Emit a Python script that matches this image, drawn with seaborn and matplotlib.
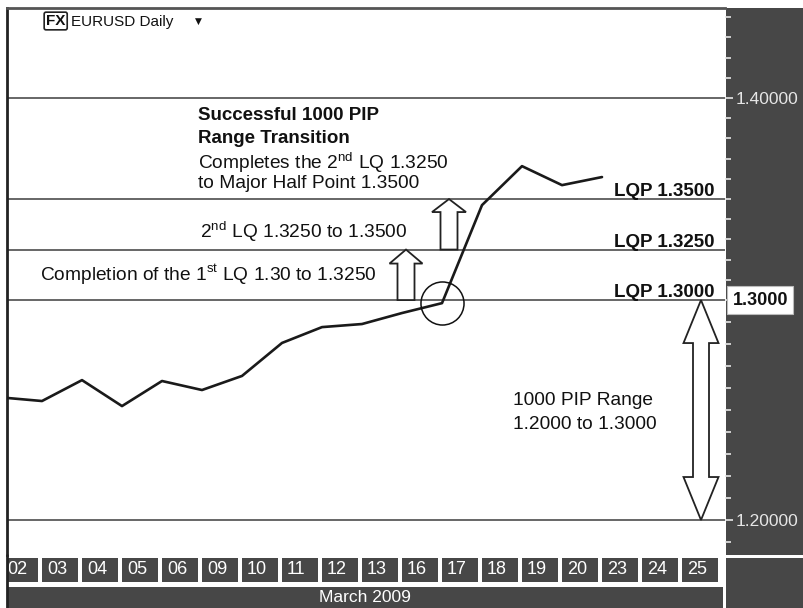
import matplotlib
matplotlib.use("Agg")
import matplotlib.pyplot as plt
import numpy as np
import pandas as pd
import seaborn as sns
from matplotlib.lines import Line2D
from matplotlib.patches import Polygon, Rectangle
from matplotlib.ticker import FixedLocator, NullFormatter

# trading days on the bottom strip (March 2009)
days = ["02", "03", "04", "05", "06", "09", "10", "11", "12", "13",
        "16", "17", "18", "19", "20", "23", "24", "25"]
# EURUSD daily closes (last one = partial bar)
closes = [1.2557, 1.2541, 1.2636, 1.2518, 1.2632, 1.2591, 1.2655, 1.2805,
          1.2877, 1.2891, 1.2941, 1.2986, 1.3470, 1.3663, 1.3569, 1.3609]
lqp_levels = [1.3500, 1.3250, 1.3000]
lqp_labels = ["LQP 1.3500", "LQP 1.3250", "LQP 1.3000"]
grid_levels = [1.40, 1.35, 1.325, 1.30, 1.20]
major_ticks = [1.20, 1.30, 1.40]
major_labels = ["1.20000", "", "1.40000"]
circled_day = "17"
month_label = "March 2009"

W, H = 804, 608
PANEL = "#474747"
INK = "#111111"

sns.set_theme(style="white")
plt.rcParams["font.family"] = ["Liberation Sans", "DejaVu Sans"]
plt.rcParams["mathtext.fontset"] = "custom"
plt.rcParams["mathtext.rm"] = "Liberation Sans"


def fbox(x0, y0, x1, y1):
    # pixel box (top-left origin) -> figure rect
    return [x0 / W, 1 - y1 / H, (x1 - x0) / W, (y1 - y0) / H]


# the chart is not drawn to one scale: 1.30-1.45 is a bit tighter than 1.18-1.30
def fwd(v):
    v = np.asarray(v, dtype=float)
    return np.where(v >= 1.30, (v - 1.30) * 1.01, (v - 1.30) * 1.1)


def inv(u):
    u = np.asarray(u, dtype=float)
    return np.where(u >= 0, u / 1.01 + 1.30, u / 1.1 + 1.30)


def hollow_arrow(ax, x, y_from, y_to, shaft, head, head_len, both=False):
    # widths given in pixels, ends in data units
    tr = ax.transData
    px, pb = tr.transform((x, y_from))
    _, pt = tr.transform((x, y_to))
    if both:
        pts = [(px, pb), (px - head, pb + head_len), (px - shaft, pb + head_len),
               (px - shaft, pt - head_len), (px - head, pt - head_len), (px, pt),
               (px + head, pt - head_len), (px + shaft, pt - head_len),
               (px + shaft, pb + head_len), (px + head, pb + head_len)]
    else:
        pts = [(px - shaft, pb), (px - shaft, pt - head_len), (px - head, pt - head_len),
               (px, pt), (px + head, pt - head_len), (px + shaft, pt - head_len),
               (px + shaft, pb)]
    verts = tr.inverted().transform(np.array(pts))
    ax.add_patch(Polygon(verts, closed=True, fc="white", ec="#222222", lw=1.3, zorder=3))


fig = plt.figure(figsize=(W / 100, H / 100), dpi=100, facecolor="white")

# dark side panels
fig.add_artist(Rectangle((726 / W, 1 - 555 / H), 78 / W, 547 / H, transform=fig.transFigure,
                         fc=PANEL, ec="none", zorder=-1))
fig.add_artist(Rectangle((726 / W, 0), 78 / W, 50 / H, transform=fig.transFigure,
                         fc=PANEL, ec="none", zorder=-1))
fig.add_artist(Line2D([7 / W, 7 / W], [0, 1 - 555 / H], transform=fig.transFigure,
                      color="#222222", lw=2))

ax = fig.add_axes(fbox(7, 8, 725, 555))
ax.set_facecolor("white")
ax.set_yscale("function", functions=(fwd, inv))
ax.set_xlim(0.125, 18.075)
ax.set_ylim(1.1841, 1.4446)

df = pd.DataFrame({"day": days[:len(closes)], "close": closes})
df["pos"] = np.arange(len(df))

for lvl in grid_levels:
    ax.axhline(lvl, color="#5a5a5a", lw=1.3, zorder=1)

sns.lineplot(data=df, x="pos", y="close", ax=ax, color="#1a1a1a", lw=1.9, zorder=4)

ci = days.index(circled_day)
ax.plot(ci, closes[ci], "o", ms=31, mfc="none", mec=INK, mew=1.1, zorder=4)

# level labels
for lvl, lab in zip(lqp_levels, lqp_labels):
    ax.text(17.825, lvl + 0.0015, lab, ha="right", va="baseline", fontsize=13.5,
            fontweight="bold", color=INK, zorder=5)

ax.text(1.0103, 1.30, "1.3000", transform=ax.get_yaxis_transform(), ha="left", va="center",
        fontsize=13, fontweight="bold", color=INK, clip_on=False, zorder=6,
        bbox=dict(boxstyle="square,pad=0.3", fc="white", ec="#bbbbbb", lw=0.8))

# annotations
sup = dict(fontsize=13.8, va="center", color=INK)
ax.text(4.9, 1.3916, "Successful 1000 PIP", fontsize=13.5, fontweight="bold", va="center", color=INK)
ax.text(4.9, 1.3802, "Range Transition", fontsize=13.5, fontweight="bold", va="center", color=INK)
ax.text(4.9, 1.3683, "Completes the 2$^{\\rm nd}$ LQ 1.3250", **sup)
ax.text(4.9, 1.3579, "to Major Half Point 1.3500", **sup)
ax.text(4.95, 1.3337, "2$^{\\rm nd}$ LQ 1.3250 to 1.3500", **sup)
ax.text(0.95, 1.3124, "Completion of the 1$^{\\rm st}$ LQ 1.30 to 1.3250", **sup)
ax.text(12.775, 1.2545, "1000 PIP Range", **sup)
ax.text(12.775, 1.2432, "1.2000 to 1.3000", **sup)

hollow_arrow(ax, 10.1, 1.30, 1.325, 8.5, 16.5, 14)
hollow_arrow(ax, 11.175, 1.325, 1.35, 8.5, 17, 13)
hollow_arrow(ax, 17.475, 1.20, 1.30, 8, 17.5, 43, both=True)

# price scale on the right
ax.yaxis.tick_right()
ax.yaxis.set_major_locator(FixedLocator(major_ticks))
ax.set_yticklabels(major_labels)
ax.yaxis.set_minor_locator(FixedLocator(np.round(np.arange(1.19, 1.445, 0.01), 2)))
ax.yaxis.set_minor_formatter(NullFormatter())
ax.tick_params(axis="y", which="both", colors="#e6e6e6", labelsize=12.5, direction="out",
               right=True, left=False, pad=2)
ax.tick_params(axis="y", which="major", length=6, width=1.2)
ax.tick_params(axis="y", which="minor", length=4, width=1.2)
ax.set_xticks([])
ax.set_xlabel("")
ax.set_ylabel("")
for side in ["right", "bottom"]:
    ax.spines[side].set_visible(False)
ax.spines["left"].set_color("#222222")
ax.spines["left"].set_linewidth(2)
ax.spines["top"].set_color("#555555")
ax.spines["top"].set_linewidth(2)

# day boxes
axd = fig.add_axes(fbox(7, 558, 725, 582))
axd.bar(np.arange(len(days)), 1, width=0.9, align="edge", color=PANEL, edgecolor="none")
for i, d in enumerate(days):
    axd.text(i + 0.12, 0.5, d, color="white", fontsize=13, va="center", ha="left")
axd.set_xlim(0.125, 18.075)
axd.set_ylim(0, 1)
axd.axis("off")

# month bar
axm = fig.add_axes(fbox(7, 587, 723, 608))
axm.set_facecolor(PANEL)
axm.text(0.5, 0.5, month_label, color="white", fontsize=12.5, ha="center", va="center",
         transform=axm.transAxes)
axm.set_xticks([])
axm.set_yticks([])
for s in axm.spines.values():
    s.set_visible(False)

# header
fig.text(46 / W, 1 - 21 / H, "FX", fontsize=11, fontweight="bold", va="center", ha="left",
         color=INK, bbox=dict(boxstyle="round,pad=0.12", fc="white", ec="#222222", lw=1.2))
fig.text(71 / W, 1 - 22 / H, "EURUSD Daily", fontsize=11, va="center", ha="left", color=INK)
fig.text(195 / W, 1 - 21 / H, "\u25BC", fontsize=6.5, va="center", ha="left", color=INK,
         family=["DejaVu Sans"])

fig.savefig("out.png", dpi=100)
